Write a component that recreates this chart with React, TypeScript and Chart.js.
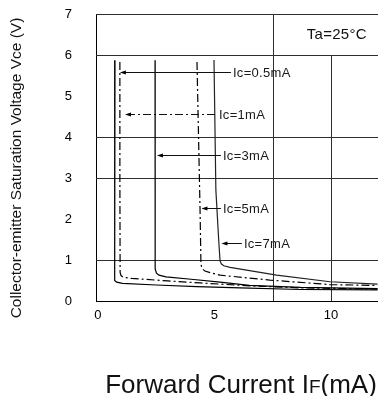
import React, { useEffect, useRef } from "react";
import { Chart, registerables } from "chart.js";

Chart.register(...registerables);

// Forward current IF (mA) and collector-emitter saturation voltage Vce (V) for each curve
const ic05X = [0.73, 0.72, 0.70, 0.73, 0.80, 1.05, 2.5, 4.25, 6.1, 8.7, 12.0];
const ic05Y = [5.87, 3.0, 0.60, 0.50, 0.46, 0.43, 0.39, 0.35, 0.32, 0.28, 0.27];

const ic1X = [0.94, 0.94, 0.95, 0.99, 1.08, 1.45, 3.0, 4.4, 6.5, 8.7, 12.0];
const ic1Y = [5.83, 3.0, 0.70, 0.62, 0.58, 0.55, 0.49, 0.44, 0.37, 0.32, 0.29];

const ic3X = [2.45, 2.45, 2.46, 2.51, 2.62, 2.92, 4.0, 5.24, 6.5, 8.7, 12.0];
const ic3Y = [5.87, 3.0, 0.78, 0.68, 0.63, 0.59, 0.53, 0.46, 0.38, 0.33, 0.30];

const ic5X = [4.25, 4.38, 4.42, 4.46, 4.59, 4.89, 5.24, 7.38, 9.96, 12.0];
const ic5Y = [5.83, 2.27, 0.90, 0.80, 0.73, 0.68, 0.63, 0.51, 0.40, 0.38];

const ic7X = [4.98, 5.06, 5.19, 5.24, 5.30, 5.40, 5.67, 7.67, 9.96, 12.0];
const ic7Y = [5.88, 2.71, 1.41, 0.98, 0.90, 0.86, 0.82, 0.63, 0.47, 0.41];

// Curve labels (arrow annotations)
const annLabels = ["Ic=0.5mA", "Ic=1mA", "Ic=3mA", "Ic=5mA", "Ic=7mA"];
const annY = [5.59, 4.56, 3.55, 2.27, 1.41];
const annTipX = [0.94, 1.16, 2.53, 4.44, 5.30];
const annTextX = [5.75, 5.15, 5.32, 5.32, 6.22];

// Axis ticks and grid
const xTicks = [0, 5, 10];
const yTicks = [0, 1, 2, 3, 4, 5, 6, 7];
const gridYValues = [1, 3, 4, 6, 7];
const gridXValues = [7.5, 10];
const gridXTop = [7, 6];

const xTitleMain = "Forward Current I";
const xTitleSub = "F";
const xTitleEnd = "(mA)";
const yTitle = "Collector-emitter Saturation Voltage Vce (V)";
const tempLabel = "Ta=25°C";

const FONT = '"Liberation Sans", Arial, Helvetica, sans-serif';
const DASHDOT = [8, 3, 2, 3];

const pts = (xs: number[], ys: number[]) => xs.map((x, i) => ({ x, y: ys[i] }));

const zeroPad = (s: any) => {
  s.paddingTop = 0;
  s.paddingBottom = 0;
  s.paddingLeft = 0;
  s.paddingRight = 0;
};

const customPlugin = {
  id: "customDraw",
  beforeDatasetsDraw(chart: any) {
    const { ctx, chartArea: ca, scales } = chart;
    const xs = scales.x;
    const ys = scales.y;
    ctx.save();
    ctx.strokeStyle = "#2e2e2e";
    ctx.lineWidth = 1;
    gridYValues.forEach((v) => {
      const py = Math.round(ys.getPixelForValue(v)) + 0.5;
      ctx.beginPath();
      ctx.moveTo(ca.left, py);
      ctx.lineTo(ca.right, py);
      ctx.stroke();
    });
    gridXValues.forEach((v, i) => {
      const px = Math.round(xs.getPixelForValue(v)) + 0.5;
      ctx.beginPath();
      ctx.moveTo(px, ys.getPixelForValue(gridXTop[i]));
      ctx.lineTo(px, ca.bottom);
      ctx.stroke();
    });
    ctx.restore();
  },
  afterDatasetsDraw(chart: any) {
    const { ctx, chartArea: ca, scales } = chart;
    const xs = scales.x;
    const ys = scales.y;
    ctx.save();
    // annotations
    ctx.font = `13px ${FONT}`;
    (ctx as any).letterSpacing = "0.3px";
    ctx.textBaseline = "middle";
    ctx.textAlign = "left";
    annLabels.forEach((lab, i) => {
      const py = Math.round(ys.getPixelForValue(annY[i])) + 0.5;
      const tip = xs.getPixelForValue(annTipX[i]);
      const tx = xs.getPixelForValue(annTextX[i]);
      ctx.strokeStyle = "#111";
      ctx.lineWidth = 1;
      ctx.setLineDash(i === 1 ? DASHDOT : []);
      ctx.beginPath();
      ctx.moveTo(tip + 2, py);
      ctx.lineTo(tx - 1, py);
      ctx.stroke();
      ctx.setLineDash([]);
      ctx.fillStyle = "#000";
      ctx.beginPath();
      ctx.moveTo(tip, py);
      ctx.lineTo(tip + 6, py - 2);
      ctx.lineTo(tip + 6, py + 2);
      ctx.closePath();
      ctx.fill();
      ctx.fillStyle = "#1a1a1a";
      ctx.fillText(lab, tx + 1, py + 0.5);
    });
    // temperature label
    ctx.font = `15px ${FONT}`;
    ctx.textBaseline = "alphabetic";
    ctx.fillStyle = "#111";
    ctx.fillText(tempLabel, xs.getPixelForValue(8.96), ys.getPixelForValue(6.4));
    (ctx as any).letterSpacing = "0px";

    // x title with small F
    const big = `26px ${FONT}`;
    const small = `19px ${FONT}`;
    ctx.font = big;
    const w1 = ctx.measureText(xTitleMain).width;
    const w3 = ctx.measureText(xTitleEnd).width;
    ctx.font = small;
    const w2 = ctx.measureText(xTitleSub).width;
    const total = w1 + w2 + w3;
    let sx = (ca.left + ca.right) / 2 + 4 - total / 2;
    const base = 393;
    ctx.fillStyle = "#111";
    ctx.font = big;
    ctx.fillText(xTitleMain, sx, base);
    sx += w1;
    ctx.font = small;
    ctx.fillText(xTitleSub, sx, base);
    sx += w2;
    ctx.font = big;
    ctx.fillText(xTitleEnd, sx, base);

    // y title
    ctx.translate(17, 168);
    ctx.rotate(-Math.PI / 2);
    ctx.font = `15.5px ${FONT}`;
    ctx.textAlign = "center";
    ctx.textBaseline = "middle";
    ctx.fillText(yTitle, 0, 0);
    ctx.restore();
  },
};

export default function App() {
  const ref = useRef<HTMLCanvasElement | null>(null);
  useEffect(() => {
    if (!ref.current) return;
    const lineDs = (label: string, data: any[], dash: number[], color: string) => ({
      label,
      data,
      borderColor: color,
      borderWidth: 1.2,
      borderDash: dash,
      pointRadius: 0,
      fill: false,
      tension: 0,
      showLine: true,
    });
    const chart = new Chart(ref.current, {
      type: "line",
      data: {
        datasets: [
          lineDs("Ic=0.5mA", pts(ic05X, ic05Y), [], "#000"),
          lineDs("Ic=1mA", pts(ic1X, ic1Y), DASHDOT, "#000"),
          lineDs("Ic=3mA", pts(ic3X, ic3Y), [], "#000"),
          lineDs("Ic=5mA", pts(ic5X, ic5Y), DASHDOT, "#000"),
          lineDs("Ic=7mA", pts(ic7X, ic7Y), [], "#222"),
        ],
      },
      options: {
        responsive: false,
        animation: false,
        events: [],
        layout: { padding: { top: 14, left: 0, right: 0, bottom: 0 } },
        plugins: { legend: { display: false }, tooltip: { enabled: false }, title: { display: false } },
        scales: {
          x: {
            type: "linear",
            min: -0.085,
            max: 12.02,
            afterBuildTicks: (s: any) => {
              s.ticks = xTicks.map((v) => ({ value: v }));
            },
            afterFit: (s: any) => {
              s.height = 95;
              zeroPad(s);
            },
            grid: { display: false, drawTicks: false },
            border: { display: true, color: "#000", width: 1 },
            ticks: {
              padding: 7,
              color: "#000",
              font: { family: FONT, size: 13 },
              maxRotation: 0,
              autoSkip: false,
              callback: (v: any) => String(v),
            },
          },
          y: {
            type: "linear",
            min: 0,
            max: 7,
            afterBuildTicks: (s: any) => {
              s.ticks = yTicks.map((v) => ({ value: v }));
            },
            afterFit: (s: any) => {
              s.width = 96;
              zeroPad(s);
            },
            grid: { display: false, drawTicks: false },
            border: { display: true, color: "#000", width: 1 },
            ticks: {
              padding: 24,
              color: "#000",
              font: { family: FONT, size: 13 },
              autoSkip: false,
              callback: (v: any) => String(v),
            },
          },
        },
      },
      plugins: [customPlugin],
    } as any);
    return () => chart.destroy();
  }, []);
  return (
    <div style={{ position: "fixed", left: 0, top: 0, width: 378, height: 396, background: "#fff" }}>
      <canvas ref={ref} width={378} height={396} style={{ display: "block" }} />
    </div>
  );
}
